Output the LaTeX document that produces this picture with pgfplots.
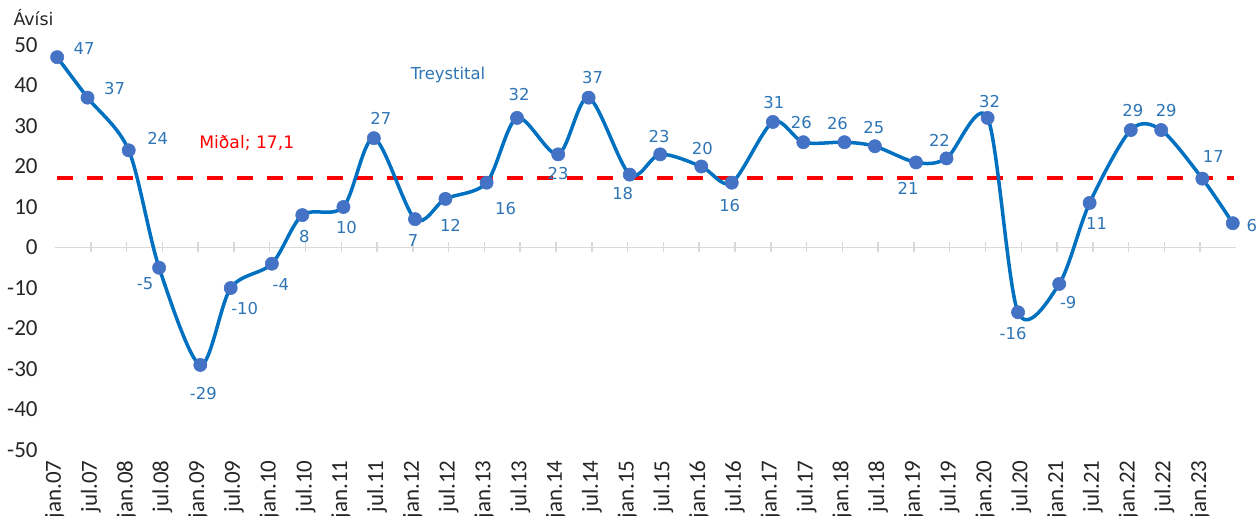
\documentclass[border=0pt]{standalone}
\usepackage{fontspec}
\setmainfont{DejaVu Sans}
\newfontfamily\carlito{Carlito}
\usepackage{pgfplots}
\usepackage{pgfplotstable}
\pgfplotsset{compat=1.18}

\definecolor{linieblue}{RGB}{0,112,192}
\definecolor{markblue}{RGB}{68,114,196}
\definecolor{labelblue}{RGB}{46,117,182}
\definecolor{zerogray}{RGB}{217,217,217}

% x: jan-points a bit right of the tick, jul-points a bit left
% dx/dy: shift of the data label (pt)
\pgfplotstableread{
x      y    dx    dy
0.06   47   13.5  4.5
0.91   37   13.5  4.5
2.06   24   14.5  6
2.91   -5   -7    -8
4.06   -29  1.5   -14.5
4.91   -10  7     -10.5
6.06   -4   4.5   -10.5
6.91   8    1     -10.5
8.06   10   1.5   -10.5
8.91   27   3.5   10
10.06  7    -1    -10.5
10.91  12   2.5   -13.5
12.06  16   9.5   -13
12.91  32   1     11.5
14.06  23   0     -9.5
14.91  37   2     10
16.06  18   -3.5  -9.5
16.91  23   -0.5  9
18.06  20   0.5   9
18.91  16   -1    -11.5
20.06  31   0.5   9.5
20.91  26   -1    10
22.06  26   -3.5  9.5
22.91  25   -0.5  9.5
24.06  21   -4    -13
24.91  22   -3.5  9
26.06  32   1     8
26.91  -16  -2.5  -10.5
28.06  -9   4.5   -9.5
28.91  11   3.5   -10.5
30.06  29   1     10
30.91  29   2.5   10
32.06  17   5.5   11
32.91  6    9.5   -1
}\treystital

\begin{document}
\begin{tikzpicture}
\pgfplotsset{
  base/.style={
    width=590.5pt, height=202.5pt, scale only axis,
    xmin=0, xmax=33, ymin=-50, ymax=50,
  }
}
% zero line with its ticks
\begin{axis}[base,
  axis x line=middle, hide y axis,
  axis line style={-, draw=zerogray, line width=0.75pt},
  xtick={0,...,33}, xticklabels={},
  tick align=center, major tick length=5pt,
  tick style={draw=zerogray, line width=0.75pt},
]
\end{axis}

\begin{axis}[base,
  clip=false,
  axis line style={draw=none},
  tick style={draw=none}, major tick length=0pt,
  ytick={-50,-40,...,50},
  yticklabels={-50,-40,-30,-20,-10,0,10,20,30,40,50},
  xtick={0,...,32},
  xticklabels={jan.07,jul.07,jan.08,jul.08,jan.09,jul.09,jan.10,jul.10,jan.11,jul.11,jan.12,jul.12,jan.13,jul.13,jan.14,jul.14,jan.15,jul.15,jan.16,jul.16,jan.17,jul.17,jan.18,jul.18,jan.19,jul.19,jan.20,jul.20,jan.21,jul.21,jan.22,jul.22,jan.23},
  tick label style={font=\carlito\fontsize{11.5}{13}\selectfont, text=black!85},
  yticklabel style={inner sep=0pt, xshift=-8.5pt},
  xticklabel style={inner sep=0pt, yshift=-5pt, rotate=90, anchor=east},
]
\addplot[red, line width=1.75pt, dash pattern=on 8pt off 7pt]
  coordinates {(0.06,17.1) (32.95,17.1)};

\addplot[linieblue, line width=1.75pt, smooth,
  mark=*, mark size=3.3pt,
  mark options={solid, fill=markblue, draw=markblue, line width=0.3pt},
  point meta=explicit symbolic,
  nodes near coords={\pgfplotspointmeta},
  visualization depends on={\thisrow{dx} \as \dx},
  visualization depends on={\thisrow{dy} \as \dy},
  every node near coord/.append style={anchor=center, inner sep=0pt,
    xshift=\dx pt, yshift=\dy pt, text=labelblue,
    font=\fontsize{8.2}{10}\selectfont},
] table[x=x, y=y, meta=y] {\treystital};

\node[text=red, font=\fontsize{8.6}{10}\selectfont] at (axis cs:5.36,25.7) {Miðal; 17,1};
\node[text=labelblue, font=\fontsize{8.2}{10}\selectfont] at (axis cs:10.98,42.7) {Treystital};
\node[anchor=west, inner sep=0pt, font=\fontsize{8.7}{10}\selectfont, text=black!85] at (axis cs:-1.17,56.8) {Ávísi};
\end{axis}
\pgfresetboundingbox
\useasboundingbox (-27.5pt,-32.5pt) rectangle (602.5pt,225pt);
\end{tikzpicture}
\end{document}
